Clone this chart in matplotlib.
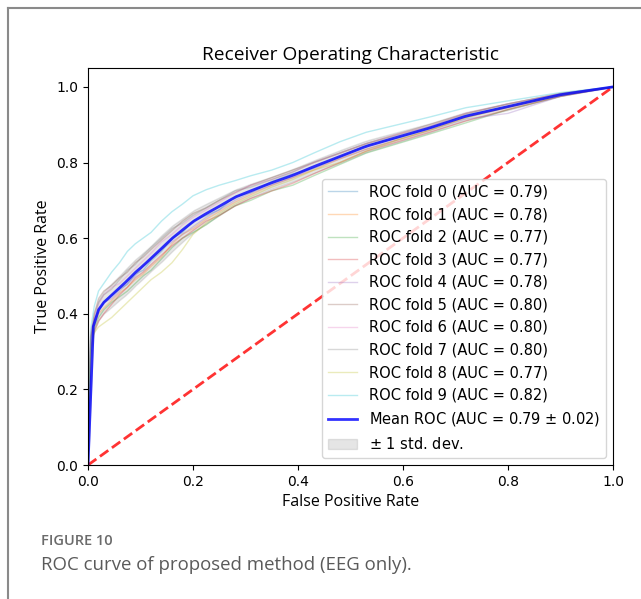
import matplotlib
matplotlib.use("Agg")
import matplotlib.pyplot as plt
import numpy as np
from matplotlib.lines import Line2D

# ---------------------------------------------------------------------------
# Data
# ---------------------------------------------------------------------------
fpr_grid = [0, 0.005, 0.012, 0.02, 0.03, 0.045, 0.06, 0.075, 0.09, 0.105,
            0.12, 0.14, 0.16, 0.18, 0.2, 0.225, 0.25, 0.28, 0.31, 0.35,
            0.39, 0.43, 0.48, 0.53, 0.59, 0.65, 0.72, 0.8, 0.9, 1.0]

tpr_fold0 = [0, 0.32, 0.385, 0.405, 0.43, 0.45, 0.465, 0.478, 0.505, 0.515,
             0.54, 0.565, 0.60, 0.615, 0.645, 0.66, 0.675, 0.71, 0.72, 0.75,
             0.77, 0.785, 0.815, 0.845, 0.865, 0.89, 0.925, 0.948, 0.98, 1.0]
tpr_fold1 = [0, 0.34, 0.37, 0.40, 0.415, 0.435, 0.455, 0.47, 0.49, 0.505,
             0.525, 0.55, 0.585, 0.61, 0.625, 0.65, 0.67, 0.695, 0.715, 0.74,
             0.76, 0.78, 0.81, 0.835, 0.86, 0.885, 0.92, 0.945, 0.978, 1.0]
tpr_fold2 = [0, 0.30, 0.36, 0.39, 0.41, 0.43, 0.445, 0.46, 0.48, 0.50,
             0.515, 0.545, 0.575, 0.60, 0.615, 0.635, 0.66, 0.685, 0.70, 0.725,
             0.74, 0.765, 0.795, 0.825, 0.85, 0.875, 0.905, 0.94, 0.975, 1.0]
tpr_fold3 = [0, 0.31, 0.355, 0.38, 0.40, 0.425, 0.45, 0.47, 0.495, 0.51,
             0.53, 0.555, 0.58, 0.60, 0.62, 0.645, 0.66, 0.685, 0.705, 0.725,
             0.745, 0.77, 0.80, 0.83, 0.855, 0.88, 0.91, 0.94, 0.975, 1.0]
tpr_fold4 = [0, 0.33, 0.38, 0.41, 0.43, 0.44, 0.46, 0.48, 0.50, 0.525,
             0.545, 0.57, 0.59, 0.61, 0.63, 0.655, 0.675, 0.70, 0.72, 0.74,
             0.76, 0.785, 0.81, 0.835, 0.86, 0.885, 0.915, 0.93, 0.975, 1.0]
tpr_fold5 = [0, 0.33, 0.40, 0.44, 0.46, 0.475, 0.495, 0.51, 0.535, 0.55,
             0.57, 0.595, 0.62, 0.645, 0.665, 0.68, 0.70, 0.72, 0.74, 0.76,
             0.78, 0.80, 0.825, 0.85, 0.875, 0.90, 0.93, 0.955, 0.983, 1.0]
tpr_fold6 = [0, 0.35, 0.39, 0.425, 0.45, 0.47, 0.48, 0.50, 0.52, 0.54,
             0.56, 0.59, 0.61, 0.635, 0.655, 0.675, 0.695, 0.72, 0.74, 0.755,
             0.775, 0.80, 0.825, 0.85, 0.875, 0.895, 0.93, 0.955, 0.982, 1.0]
tpr_fold7 = [0, 0.34, 0.40, 0.43, 0.45, 0.465, 0.49, 0.515, 0.53, 0.555,
             0.575, 0.60, 0.625, 0.64, 0.66, 0.68, 0.70, 0.725, 0.735, 0.755,
             0.775, 0.80, 0.825, 0.85, 0.872, 0.895, 0.928, 0.955, 0.982, 1.0]
tpr_fold8 = [0, 0.29, 0.35, 0.365, 0.375, 0.39, 0.41, 0.43, 0.45, 0.47,
             0.49, 0.51, 0.535, 0.57, 0.61, 0.64, 0.665, 0.69, 0.71, 0.735,
             0.755, 0.78, 0.80, 0.83, 0.86, 0.885, 0.918, 0.948, 0.978, 1.0]
tpr_fold9 = [0, 0.36, 0.42, 0.46, 0.48, 0.51, 0.535, 0.565, 0.585, 0.60,
             0.615, 0.645, 0.67, 0.69, 0.712, 0.728, 0.74, 0.752, 0.765, 0.78,
             0.80, 0.825, 0.855, 0.88, 0.90, 0.92, 0.945, 0.963, 0.985, 1.0]

fold_tprs = [tpr_fold0, tpr_fold1, tpr_fold2, tpr_fold3, tpr_fold4,
             tpr_fold5, tpr_fold6, tpr_fold7, tpr_fold8, tpr_fold9]
fold_aucs = [0.79, 0.78, 0.77, 0.77, 0.78, 0.80, 0.80, 0.80, 0.77, 0.82]
mean_auc = 0.79
std_auc = 0.02

# ---------------------------------------------------------------------------
# Figure
# ---------------------------------------------------------------------------
fig = plt.figure(figsize=(6.41, 5.99), dpi=100)
ax = fig.add_axes([0.1373, 0.2237, 0.8190, 0.6628])

mean_fpr = np.linspace(0, 1, 100)
tprs = []
for i, tpr in enumerate(fold_tprs):
    ax.plot(fpr_grid, tpr, lw=1, alpha=0.3,
            label=f"ROC fold {i} (AUC = {fold_aucs[i]:.2f})")
    t = np.interp(mean_fpr, fpr_grid, tpr)
    t[0] = 0.0
    tprs.append(t)

ax.plot([0, 1], [0, 1], linestyle="--", lw=2, color="r", alpha=0.8)

mean_tpr = np.mean(tprs, axis=0)
mean_tpr[-1] = 1.0
ax.plot(mean_fpr, mean_tpr, color="b", lw=2, alpha=0.8,
        label=f"Mean ROC (AUC = {mean_auc:.2f} $\\pm$ {std_auc:.2f})")

std_tpr = np.std(tprs, axis=0)
tprs_upper = np.minimum(mean_tpr + std_tpr, 1)
tprs_lower = np.maximum(mean_tpr - std_tpr, 0)
ax.fill_between(mean_fpr, tprs_lower, tprs_upper, color="grey", alpha=0.2,
                label=r"$\pm$ 1 std. dev.")

ax.set_xlim(0, 1.0)
ax.set_ylim(0, 1.05)
ax.tick_params(labelsize=10)
ax.set_xlabel("False Positive Rate", family="Open Sans", fontsize=11.5)
ax.set_ylabel("True Positive Rate", family="Open Sans", fontsize=11.5)
ax.set_title("Receiver Operating Characteristic", family="Open Sans",
             fontsize=13.8)
ax.legend(loc="lower right", fontsize=10.5, labelspacing=0.52)

# screenshot frame and caption
fig.add_artist(Line2D([8 / 641, 8 / 641], [0, 1 - 8 / 599],
                      color="#8a8a8a", lw=1.5))
fig.add_artist(Line2D([8 / 641, 1], [1 - 8 / 599, 1 - 8 / 599],
                      color="#8a8a8a", lw=1.5))
fig.text(41 / 641, 1 - 541 / 599, "FIGURE 10", family="Open Sans",
         fontsize=10.5, fontweight="semibold", color="#6b6b6b", va="center")
fig.text(41 / 641, 1 - 565 / 599, "ROC curve of proposed method (EEG only).",
         family="Open Sans", fontsize=13.4, color="#5a5a5a", va="center")

fig.savefig("out.png", dpi=100)
